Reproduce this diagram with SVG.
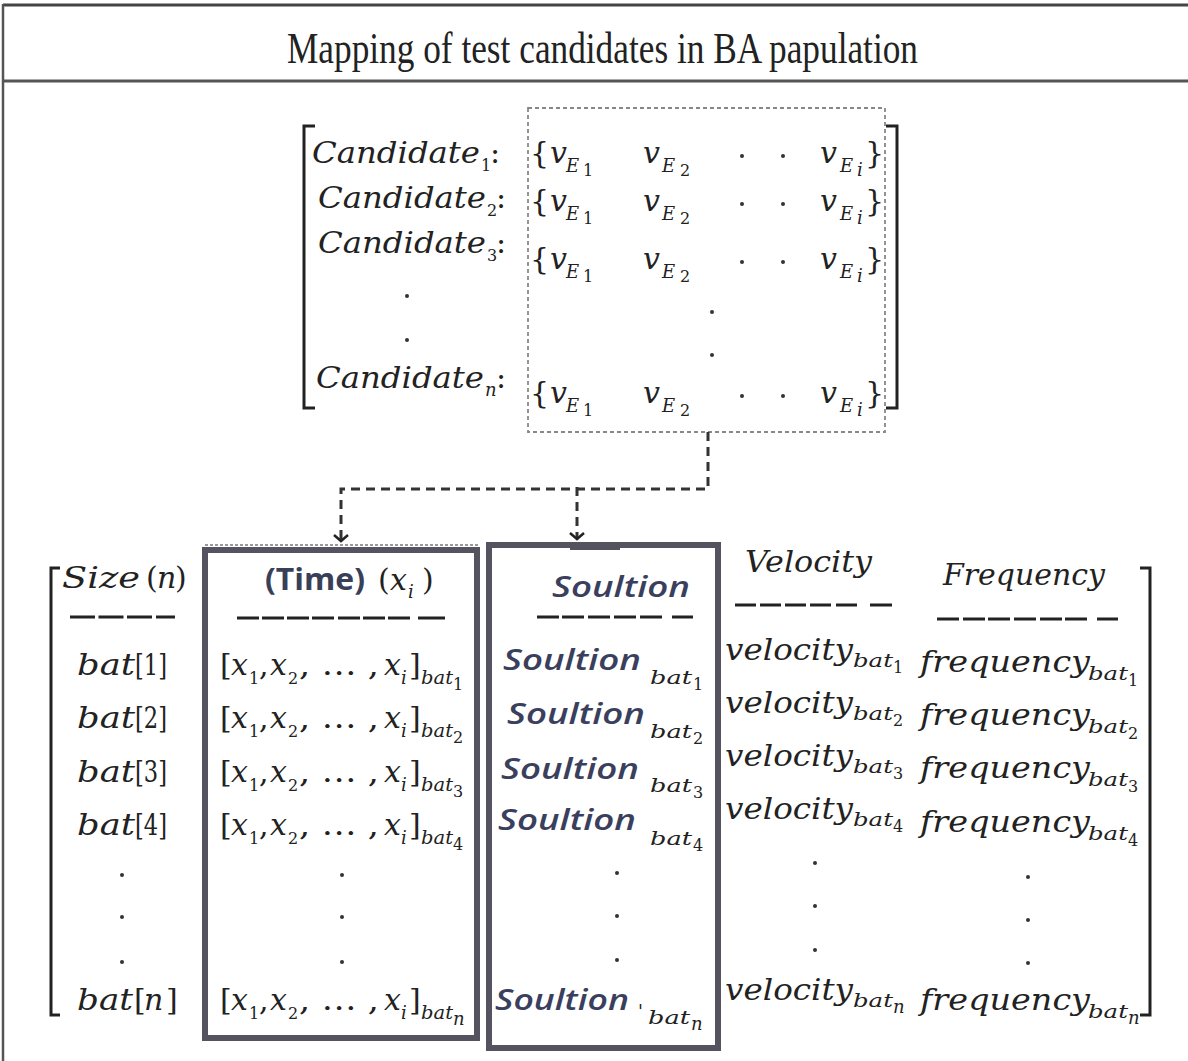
<svg xmlns="http://www.w3.org/2000/svg" width="1188" height="1061" viewBox="0 0 1188 1061">
<defs>
<style>
.m{font-family:"DejaVu Serif","Liberation Serif",serif;font-style:italic;fill:#222;font-size:30px}
.u{font-family:"DejaVu Serif","Liberation Serif",serif;font-style:normal;fill:#222;font-size:30px}
.s{font-family:"DejaVu Serif","Liberation Serif",serif;font-style:italic;fill:#222;font-size:18px}
.su{font-family:"DejaVu Serif","Liberation Serif",serif;fill:#222;font-size:16px}
.sol{font-family:"Open Sans","DejaVu Sans",sans-serif;font-style:italic;font-weight:600;fill:#3b3f5e;font-size:28px}
.conn{stroke:#333;stroke-width:3;stroke-dasharray:9,6;fill:none}
.box{fill:none;stroke:#55535f;stroke-width:6}
.br{fill:none;stroke:#222;stroke-width:3}
.rule{stroke:#222;stroke-width:3;fill:none}
</style>
<marker id="arr" viewBox="-8 -8 16 16" markerWidth="16" markerHeight="16" refX="0" refY="0" orient="auto" markerUnits="userSpaceOnUse">
<path d="M-6,-7 L0,0 L-6,7" fill="none" stroke="#222" stroke-width="2.5"/>
</marker>
</defs>
<rect width="1188" height="1061" fill="#fff"/>
<g id="frame">
<line x1="3" y1="5" x2="1188" y2="5" stroke="#444" stroke-width="3"/>
<line x1="3" y1="81" x2="1188" y2="81" stroke="#555" stroke-width="3"/>
<line x1="3" y1="4" x2="3" y2="1061" stroke="#555" stroke-width="2.5"/>
<text x="287" y="63" font-family="Liberation Serif,serif" font-size="44" fill="#222" textLength="631" lengthAdjust="spacingAndGlyphs">Mapping of test candidates in BA papulation</text>
</g>
<g id="candidates">
<rect x="528" y="108" width="357" height="324" fill="none" stroke="#888" stroke-width="1.8" stroke-dasharray="4,3"/>
<path class="br" d="M315,126 H304 V408 H315"/>
<path class="br" d="M886,126 H897 V408 H886"/>
<text class="m" x="312" y="163" textLength="168" lengthAdjust="spacingAndGlyphs">Candidate</text><text class="su" x="481" y="171">1</text><text class="u" x="490" y="163">:</text>
<text class="m" x="318" y="208" textLength="168" lengthAdjust="spacingAndGlyphs">Candidate</text><text class="su" x="487" y="216">2</text><text class="u" x="496" y="208">:</text>
<text class="m" x="318" y="253" textLength="168" lengthAdjust="spacingAndGlyphs">Candidate</text><text class="su" x="487" y="261">3</text><text class="u" x="496" y="253">:</text>
<circle cx="407" cy="296" r="2" fill="#333"/><circle cx="407" cy="340" r="2" fill="#333"/>
<text class="m" x="316" y="388" textLength="168" lengthAdjust="spacingAndGlyphs">Candidate</text><text class="s" x="485" y="396">n</text><text class="u" x="496" y="388">:</text>
<g id="vrow1">
<text class="u" x="530" y="163">{</text><text class="m" x="550" y="163">v</text><text class="s" x="566" y="172" font-size="20">E</text><text class="su" x="583" y="176" font-size="19">1</text>
<text class="m" x="643" y="163">v</text><text class="s" x="662" y="172" font-size="20">E</text><text class="su" x="680" y="176" font-size="19">2</text>
<circle cx="742" cy="156" r="2" fill="#333"/><circle cx="783" cy="156" r="2" fill="#333"/>
<text class="m" x="820" y="163">v</text><text class="s" x="840" y="172" font-size="20">E</text><text class="s" x="857" y="176" font-size="16">i</text><text class="u" x="865" y="163">}</text>
</g>
<g id="vrow2" transform="translate(0,48)">
<text class="u" x="530" y="163">{</text><text class="m" x="550" y="163">v</text><text class="s" x="566" y="172" font-size="20">E</text><text class="su" x="583" y="176" font-size="19">1</text>
<text class="m" x="643" y="163">v</text><text class="s" x="662" y="172" font-size="20">E</text><text class="su" x="680" y="176" font-size="19">2</text>
<circle cx="742" cy="156" r="2" fill="#333"/><circle cx="783" cy="156" r="2" fill="#333"/>
<text class="m" x="820" y="163">v</text><text class="s" x="840" y="172" font-size="20">E</text><text class="s" x="857" y="176" font-size="16">i</text><text class="u" x="865" y="163">}</text>
</g>
<g id="vrow3" transform="translate(0,106)">
<text class="u" x="530" y="163">{</text><text class="m" x="550" y="163">v</text><text class="s" x="566" y="172" font-size="20">E</text><text class="su" x="583" y="176" font-size="19">1</text>
<text class="m" x="643" y="163">v</text><text class="s" x="662" y="172" font-size="20">E</text><text class="su" x="680" y="176" font-size="19">2</text>
<circle cx="742" cy="156" r="2" fill="#333"/><circle cx="783" cy="156" r="2" fill="#333"/>
<text class="m" x="820" y="163">v</text><text class="s" x="840" y="172" font-size="20">E</text><text class="s" x="857" y="176" font-size="16">i</text><text class="u" x="865" y="163">}</text>
</g>
<circle cx="712" cy="312" r="2" fill="#333"/><circle cx="712" cy="355" r="2" fill="#333"/>
<g id="vrown" transform="translate(0,240)">
<text class="u" x="530" y="163">{</text><text class="m" x="550" y="163">v</text><text class="s" x="566" y="172" font-size="20">E</text><text class="su" x="583" y="176" font-size="19">1</text>
<text class="m" x="643" y="163">v</text><text class="s" x="662" y="172" font-size="20">E</text><text class="su" x="680" y="176" font-size="19">2</text>
<circle cx="742" cy="156" r="2" fill="#333"/><circle cx="783" cy="156" r="2" fill="#333"/>
<text class="m" x="820" y="163">v</text><text class="s" x="840" y="172" font-size="20">E</text><text class="s" x="857" y="176" font-size="16">i</text><text class="u" x="865" y="163">}</text>
</g>
</g>
<g id="connectors">
<path class="conn" d="M708,432 V489 H341 V541" marker-end="url(#arr)"/>
<path class="conn" d="M577,487 V539" marker-end="url(#arr)"/>
</g>
<g id="population">
<path class="br" d="M60,568 H51 V1015 H60"/>
<path class="br" d="M1140,568 H1150 V1015 H1140"/>
<line x1="205" y1="545" x2="478" y2="545" stroke="#999" stroke-width="2" stroke-dasharray="3,2"/>
<rect class="box" x="205" y="550" width="272" height="488"/>
<rect class="box" x="489" y="545" width="229" height="503"/>
<rect x="570" y="545" width="50" height="5" fill="#55535f"/>
<!-- headers -->
<text class="m" x="62" y="588" textLength="78" lengthAdjust="spacingAndGlyphs">Size</text><text class="u" x="146" y="588">(</text><text class="m" x="157" y="588">n</text><text class="u" x="175" y="588">)</text>
<path class="rule" d="M70,617 H95 M98.5,617 H123.5 M127,617 H152 M156,617 H175"/>
<text x="265" y="590" font-family="Open Sans,DejaVu Sans,sans-serif" font-weight="700" font-size="30" fill="#3a3f58" textLength="100" lengthAdjust="spacingAndGlyphs">(Time)</text>
<text class="u" x="378" y="590">(</text><text class="m" x="390" y="590">x</text><text class="s" x="408" y="598">i</text><text class="u" x="422" y="590">)</text>
<path class="rule" d="M237,618 H259 M262,618 H284 M287,618 H309 M312,618 H334 M338,618 H360 M363,618 H385 M388,618 H410 M418,618 H445"/>
<text class="sol" x="552" y="597" textLength="138" lengthAdjust="spacingAndGlyphs">Soultion</text>
<path class="rule" d="M537,617 H559 M562,617 H584 M588,617 H610 M614,617 H636 M640,617 H662 M672,617 H693"/>
<text class="m" x="745" y="572" textLength="127" lengthAdjust="spacingAndGlyphs">Velocity</text>
<path class="rule" d="M735,605 H756 M760,605 H781 M785,605 H806 M810,605 H831 M836,605 H857 M870,605 H892"/>
<text class="m" x="943" y="585" textLength="162" lengthAdjust="spacingAndGlyphs">Frequency</text>
<path class="rule" d="M937,619 H959 M963,619 H985 M988,619 H1010 M1014,619 H1036 M1040,619 H1062 M1065,619 H1087 M1097,619 H1118"/>
<!-- size column -->
<g id="sizecol">
<text class="m" x="77" y="675" textLength="58" lengthAdjust="spacingAndGlyphs">bat</text><text class="u" x="135" y="675" textLength="32" lengthAdjust="spacingAndGlyphs">[1]</text>
<text class="m" x="77" y="728" textLength="58" lengthAdjust="spacingAndGlyphs">bat</text><text class="u" x="135" y="728" textLength="32" lengthAdjust="spacingAndGlyphs">[2]</text>
<text class="m" x="77" y="782" textLength="58" lengthAdjust="spacingAndGlyphs">bat</text><text class="u" x="135" y="782" textLength="32" lengthAdjust="spacingAndGlyphs">[3]</text>
<text class="m" x="77" y="835" textLength="58" lengthAdjust="spacingAndGlyphs">bat</text><text class="u" x="135" y="835" textLength="32" lengthAdjust="spacingAndGlyphs">[4]</text>
<circle cx="122" cy="875" r="2" fill="#333"/><circle cx="122" cy="917" r="2" fill="#333"/><circle cx="122" cy="962" r="2" fill="#333"/>
<text class="m" x="77" y="1010" textLength="56" lengthAdjust="spacingAndGlyphs">bat</text><text class="u" x="134" y="1010">[</text><text class="m" x="144" y="1010">n</text><text class="u" x="166" y="1010">]</text>
</g>
<!-- time column -->
<g id="timecol">
<g>
<text class="u" x="220" y="675">[</text><text class="m" x="231" y="675">x</text><text class="su" x="249" y="684">1</text><text class="u" x="259" y="675">,</text><text class="m" x="270" y="675">x</text><text class="su" x="288" y="684">2</text><text class="u" x="299" y="675" textLength="80" lengthAdjust="spacingAndGlyphs">, … ,</text><text class="m" x="384" y="675">x</text><text class="s" x="401" y="684">i</text><text class="u" x="409" y="675">]</text><text class="s" x="421" y="684" textLength="32" lengthAdjust="spacingAndGlyphs">bat</text><text class="su" x="453" y="690" font-size="12">1</text>
</g>
<g transform="translate(0,53)">
<text class="u" x="220" y="675">[</text><text class="m" x="231" y="675">x</text><text class="su" x="249" y="684">1</text><text class="u" x="259" y="675">,</text><text class="m" x="270" y="675">x</text><text class="su" x="288" y="684">2</text><text class="u" x="299" y="675" textLength="80" lengthAdjust="spacingAndGlyphs">, … ,</text><text class="m" x="384" y="675">x</text><text class="s" x="401" y="684">i</text><text class="u" x="409" y="675">]</text><text class="s" x="421" y="684" textLength="32" lengthAdjust="spacingAndGlyphs">bat</text><text class="su" x="453" y="690" font-size="12">2</text>
</g>
<g transform="translate(0,107)">
<text class="u" x="220" y="675">[</text><text class="m" x="231" y="675">x</text><text class="su" x="249" y="684">1</text><text class="u" x="259" y="675">,</text><text class="m" x="270" y="675">x</text><text class="su" x="288" y="684">2</text><text class="u" x="299" y="675" textLength="80" lengthAdjust="spacingAndGlyphs">, … ,</text><text class="m" x="384" y="675">x</text><text class="s" x="401" y="684">i</text><text class="u" x="409" y="675">]</text><text class="s" x="421" y="684" textLength="32" lengthAdjust="spacingAndGlyphs">bat</text><text class="su" x="453" y="690" font-size="12">3</text>
</g>
<g transform="translate(0,160)">
<text class="u" x="220" y="675">[</text><text class="m" x="231" y="675">x</text><text class="su" x="249" y="684">1</text><text class="u" x="259" y="675">,</text><text class="m" x="270" y="675">x</text><text class="su" x="288" y="684">2</text><text class="u" x="299" y="675" textLength="80" lengthAdjust="spacingAndGlyphs">, … ,</text><text class="m" x="384" y="675">x</text><text class="s" x="401" y="684">i</text><text class="u" x="409" y="675">]</text><text class="s" x="421" y="684" textLength="32" lengthAdjust="spacingAndGlyphs">bat</text><text class="su" x="453" y="690" font-size="12">4</text>
</g>
<circle cx="342" cy="875" r="2" fill="#333"/><circle cx="342" cy="917" r="2" fill="#333"/><circle cx="342" cy="962" r="2" fill="#333"/>
<g transform="translate(0,335)">
<text class="u" x="220" y="675">[</text><text class="m" x="231" y="675">x</text><text class="su" x="249" y="684">1</text><text class="u" x="259" y="675">,</text><text class="m" x="270" y="675">x</text><text class="su" x="288" y="684">2</text><text class="u" x="299" y="675" textLength="80" lengthAdjust="spacingAndGlyphs">, … ,</text><text class="m" x="384" y="675">x</text><text class="s" x="401" y="684">i</text><text class="u" x="409" y="675">]</text><text class="s" x="421" y="684" textLength="32" lengthAdjust="spacingAndGlyphs">bat</text><text class="s" x="453" y="690" font-size="12">n</text>
</g>
</g>
<!-- solution column -->
<g id="solcol">
<text class="sol" x="503" y="670" textLength="138" lengthAdjust="spacingAndGlyphs">Soultion</text><text class="s" x="650" y="684" font-size="20" textLength="42" lengthAdjust="spacingAndGlyphs">bat</text><text class="su" x="693" y="690" font-size="13">1</text>
<text class="sol" x="507" y="724" textLength="138" lengthAdjust="spacingAndGlyphs">Soultion</text><text class="s" x="650" y="738" font-size="20" textLength="42" lengthAdjust="spacingAndGlyphs">bat</text><text class="su" x="693" y="744" font-size="13">2</text>
<text class="sol" x="501" y="779" textLength="138" lengthAdjust="spacingAndGlyphs">Soultion</text><text class="s" x="650" y="792" font-size="20" textLength="42" lengthAdjust="spacingAndGlyphs">bat</text><text class="su" x="693" y="798" font-size="13">3</text>
<text class="sol" x="498" y="830" textLength="138" lengthAdjust="spacingAndGlyphs">Soultion</text><text class="s" x="650" y="845" font-size="20" textLength="42" lengthAdjust="spacingAndGlyphs">bat</text><text class="su" x="693" y="851" font-size="13">4</text>
<circle cx="617" cy="873" r="2" fill="#333"/><circle cx="617" cy="916" r="2" fill="#333"/><circle cx="617" cy="960" r="2" fill="#333"/>
<text class="sol" x="495" y="1010" textLength="134" lengthAdjust="spacingAndGlyphs">Soultion</text><text class="s" x="638" y="1018" font-size="20">'</text><text class="s" x="648" y="1024" font-size="20" textLength="42" lengthAdjust="spacingAndGlyphs">bat</text><text class="s" x="691" y="1030" font-size="13">n</text>
</g>
<!-- velocity column -->
<g id="velcol">
<text class="m" x="725" y="660" textLength="128" lengthAdjust="spacingAndGlyphs">velocity</text><text class="s" x="853" y="667" font-size="20" textLength="40" lengthAdjust="spacingAndGlyphs">bat</text><text class="su" x="893" y="673" font-size="12">1</text>
<text class="m" x="725" y="713" textLength="128" lengthAdjust="spacingAndGlyphs">velocity</text><text class="s" x="853" y="720" font-size="20" textLength="40" lengthAdjust="spacingAndGlyphs">bat</text><text class="su" x="893" y="726" font-size="12">2</text>
<text class="m" x="725" y="766" textLength="128" lengthAdjust="spacingAndGlyphs">velocity</text><text class="s" x="853" y="773" font-size="20" textLength="40" lengthAdjust="spacingAndGlyphs">bat</text><text class="su" x="893" y="779" font-size="12">3</text>
<text class="m" x="725" y="819" textLength="128" lengthAdjust="spacingAndGlyphs">velocity</text><text class="s" x="853" y="826" font-size="20" textLength="40" lengthAdjust="spacingAndGlyphs">bat</text><text class="su" x="893" y="832" font-size="12">4</text>
<circle cx="815" cy="863" r="2" fill="#333"/><circle cx="815" cy="906" r="2" fill="#333"/><circle cx="815" cy="950" r="2" fill="#333"/>
<text class="m" x="725" y="1000" textLength="128" lengthAdjust="spacingAndGlyphs">velocity</text><text class="s" x="853" y="1007" font-size="20" textLength="40" lengthAdjust="spacingAndGlyphs">bat</text><text class="s" x="893" y="1013" font-size="12">n</text>
</g>
<!-- frequency column -->
<g id="freqcol">
<text class="m" x="920" y="672" textLength="170" lengthAdjust="spacingAndGlyphs">frequency</text><text class="s" x="1088" y="680" font-size="20" textLength="40" lengthAdjust="spacingAndGlyphs">bat</text><text class="su" x="1128" y="686" font-size="12">1</text>
<text class="m" x="920" y="725" textLength="170" lengthAdjust="spacingAndGlyphs">frequency</text><text class="s" x="1088" y="733" font-size="20" textLength="40" lengthAdjust="spacingAndGlyphs">bat</text><text class="su" x="1128" y="739" font-size="12">2</text>
<text class="m" x="920" y="778" textLength="170" lengthAdjust="spacingAndGlyphs">frequency</text><text class="s" x="1088" y="786" font-size="20" textLength="40" lengthAdjust="spacingAndGlyphs">bat</text><text class="su" x="1128" y="792" font-size="12">3</text>
<text class="m" x="920" y="832" textLength="170" lengthAdjust="spacingAndGlyphs">frequency</text><text class="s" x="1088" y="840" font-size="20" textLength="40" lengthAdjust="spacingAndGlyphs">bat</text><text class="su" x="1128" y="846" font-size="12">4</text>
<circle cx="1028" cy="877" r="2" fill="#333"/><circle cx="1028" cy="920" r="2" fill="#333"/><circle cx="1028" cy="963" r="2" fill="#333"/>
<text class="m" x="920" y="1010" textLength="170" lengthAdjust="spacingAndGlyphs">frequency</text><text class="s" x="1088" y="1018" font-size="20" textLength="40" lengthAdjust="spacingAndGlyphs">bat</text><text class="s" x="1128" y="1024" font-size="12">n</text>
</g>
</g>
</svg>
